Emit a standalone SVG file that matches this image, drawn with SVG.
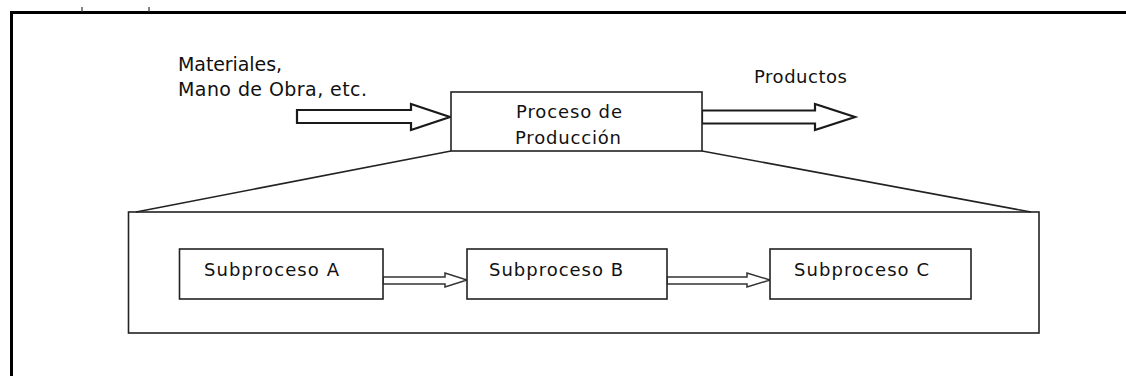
<svg xmlns="http://www.w3.org/2000/svg" width="1126" height="376" viewBox="0 0 1126 376">
<style>
.t{font-family:"DejaVu Sans","Liberation Sans",sans-serif;fill:#111;}
.big{font-size:19px;}
.mid{font-size:18px;}
.box{fill:#fff;stroke:#222;stroke-width:1.6;}
.ln{fill:none;stroke:#222;stroke-width:1.6;}
.blk{fill:#fff;stroke:#1a1a1a;stroke-width:2.2;stroke-linejoin:miter;}
.sml{fill:#fff;stroke:#333;stroke-width:1.5;}
</style>
<rect width="1126" height="376" fill="#fff"/>
<g id="frame">
<line x1="10" y1="12.5" x2="1126" y2="12.5" stroke="#000" stroke-width="3"/>
<line x1="11.5" y1="11" x2="11.5" y2="376" stroke="#000" stroke-width="3"/>
<line x1="82" y1="7" x2="82" y2="12" stroke="#333" stroke-width="1.2"/>
<line x1="149" y1="7" x2="149" y2="12" stroke="#333" stroke-width="1.2"/>
</g>
<g id="inputs-label">
<text class="t big" x="178" y="71" textLength="104" lengthAdjust="spacing">Materiales,</text>
<text class="t big" x="178" y="96" textLength="189" lengthAdjust="spacing">Mano de Obra, etc.</text>
</g>
<g id="outputs-label">
<text class="t mid" x="754" y="83" textLength="93" lengthAdjust="spacing">Productos</text>
</g>
<g id="connectors">
<path class="blk" d="M297,110 L411,110 L411,104 L450,117 L411,130 L411,123 L297,123 Z"/>
<path class="blk" d="M702,110.5 L815,110.5 L815,104 L855,117 L815,130 L815,123.5 L702,123.5 Z"/>
<line class="ln" x1="451" y1="151" x2="136" y2="212"/>
<line class="ln" x1="702" y1="151" x2="1031" y2="212"/>
<path class="sml" d="M383,277 L445,277 L445,273 L467,280 L445,287 L445,284 L383,284 Z"/>
<path class="sml" d="M667,277 L747,277 L747,273 L770,280 L747,287 L747,284 L667,284 Z"/>
</g>
<g id="proceso">
<rect class="box" x="451" y="92" width="251" height="59"/>
<text class="t mid" x="516" y="117.5" textLength="106" lengthAdjust="spacing">Proceso de</text>
<text class="t mid" x="515" y="143.5" textLength="106" lengthAdjust="spacing">Producción</text>
</g>
<g id="detalle">
<rect class="ln" x="128.5" y="212" width="910.5" height="121"/>
</g>
<g id="subA">
<rect class="box" x="179.5" y="249" width="203.5" height="50"/>
<text class="t mid" x="204" y="276" textLength="135" lengthAdjust="spacing">Subproceso A</text>
</g>
<g id="subB">
<rect class="box" x="467" y="249" width="200" height="50"/>
<text class="t mid" x="489" y="276" textLength="134" lengthAdjust="spacing">Subproceso B</text>
</g>
<g id="subC">
<rect class="box" x="770" y="249" width="201" height="50"/>
<text class="t mid" x="794" y="276" textLength="135" lengthAdjust="spacing">Subproceso C</text>
</g>
</svg>
